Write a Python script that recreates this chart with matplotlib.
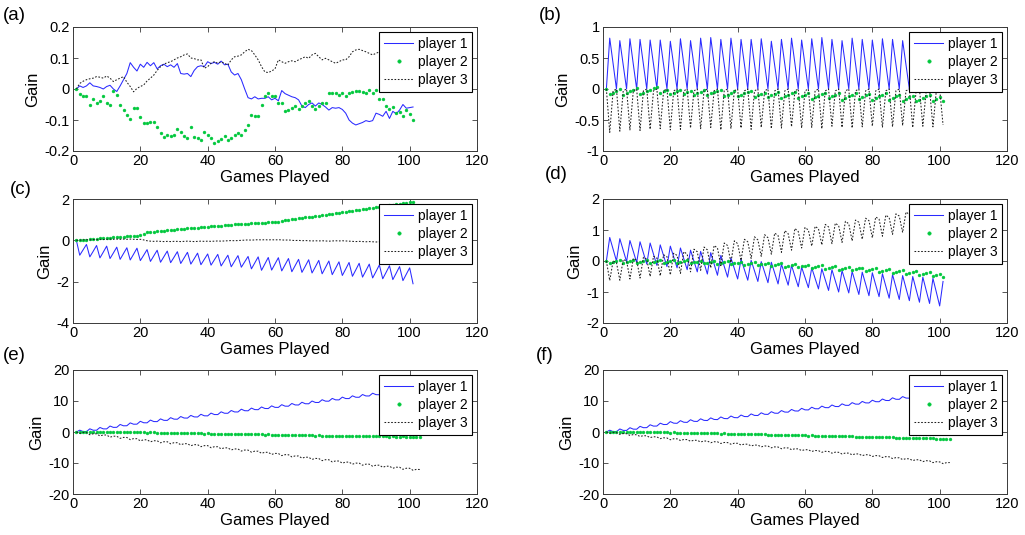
import numpy as np
import matplotlib
matplotlib.use('Agg')
import matplotlib.pyplot as plt
from matplotlib.ticker import FuncFormatter

plt.rcParams['font.family'] = ['Liberation Sans', 'DejaVu Sans']
plt.rcParams['axes.unicode_minus'] = False

# ---------------- data ----------------
labels = ['player 1', 'player 2', 'player 3']
panel_names = ['(a)', '(b)', '(c)', '(d)', '(e)', '(f)']
xticks = [0, 20, 40, 60, 80, 100, 120]

a_p1 = [0.00, 0.01, 0.005, 0.01, 0.02, 0.01, 0.008, 0.005, 0.0, 0.008,
        0.012, 0.0, -0.008, 0.01, 0.03, 0.05, 0.085, 0.07, 0.058, 0.08,
        0.07, 0.086, 0.075, 0.085, 0.065, 0.075, 0.08, 0.072, 0.078, 0.07,
        0.082, 0.05, 0.048, 0.05, 0.04, 0.06, 0.072, 0.075, 0.072, 0.088,
        0.082, 0.086, 0.08, 0.09, 0.078, 0.08, 0.055, 0.045, 0.05, 0.03,
        0.0, -0.028, -0.032, -0.025, -0.032, -0.03, -0.03, -0.025, -0.035, -0.03,
        -0.038, -0.005, -0.015, -0.02, -0.025, -0.028, -0.035, -0.055, -0.06, -0.05,
        -0.045, -0.055, -0.045, -0.05, -0.058, -0.068, -0.06, -0.062, -0.06, -0.066,
        -0.078, -0.1, -0.11, -0.116, -0.112, -0.108, -0.102, -0.105, -0.102, -0.078,
        -0.082, -0.088, -0.072, -0.095, -0.072, -0.08, -0.068, -0.05, -0.062, -0.06,
        -0.058]
a_p2 = [0, -0.017, -0.023, -0.023, -0.05, -0.033, -0.044, -0.038, -0.023, -0.046,
        -0.052, -0.006, -0.019, -0.052, -0.068, -0.084, -0.098, -0.06, -0.062, -0.089,
        -0.11, -0.11, -0.108, -0.105, -0.124, -0.143, -0.154, -0.148, -0.152, -0.148,
        -0.128, -0.138, -0.152, -0.159, -0.122, -0.154, -0.159, -0.165, -0.138, -0.148,
        -0.157, -0.175, -0.168, -0.162, -0.152, -0.165, -0.159, -0.148, -0.143, -0.148,
        -0.132, -0.116, -0.084, -0.087, -0.087, -0.052, -0.022, -0.012, -0.022, -0.022,
        -0.046, -0.046, -0.071, -0.068, -0.062, -0.054, -0.066, -0.055, -0.044, -0.039,
        -0.055, -0.066, -0.055, -0.044, -0.044, -0.014, -0.014, -0.014, -0.019, -0.012,
        -0.023, -0.014, -0.009, -0.005, -0.005, -0.009, -0.012, -0.003, -0.014, -0.002,
        -0.033, -0.033, -0.055, -0.066, -0.057, -0.078, -0.073, -0.087, -0.068, -0.082,
        -0.1]
a_p3 = [0, 0.018, 0.025, 0.03, 0.033, 0.035, 0.04, 0.038, 0.035, 0.042,
        0.035, 0.024, 0.03, 0.035, 0.04, 0.022, 0.008, -0.009, 0.002, 0.008,
        0.013, 0.026, 0.035, 0.045, 0.06, 0.072, 0.08, 0.085, 0.088, 0.094,
        0.1, 0.104, 0.11, 0.113, 0.1, 0.098, 0.094, 0.094, 0.067, 0.072,
        0.083, 0.088, 0.083, 0.088, 0.083, 0.077, 0.094, 0.104, 0.106, 0.11,
        0.12, 0.128, 0.124, 0.11, 0.094, 0.072, 0.055, 0.053, 0.058, 0.065,
        0.094, 0.088, 0.083, 0.088, 0.091, 0.088, 0.094, 0.099, 0.104, 0.099,
        0.11, 0.115, 0.104, 0.094, 0.099, 0.094, 0.088, 0.083, 0.088, 0.094,
        0.094, 0.104, 0.12, 0.126, 0.128, 0.124, 0.12, 0.115, 0.11, 0.115,
        0.12, 0.118, 0.114, 0.11, 0.115, 0.118, 0.112, 0.108, 0.114, 0.116,
        0.112]

b_p1 = [0.00, 0.82, 0.41, 0.00, 0.78, 0.39, 0.00, 0.81, 0.40, 0.00, 0.80, 0.40,
        0.00, 0.79, 0.40, 0.01, 0.79, 0.39, 0.00, 0.77, 0.38, 0.00, 0.81, 0.40,
        0.00, 0.78, 0.39, 0.00, 0.82, 0.41, 0.00, 0.83, 0.41, 0.00, 0.80, 0.40,
        0.00, 0.82, 0.41, 0.00, 0.80, 0.40, 0.00, 0.80, 0.40, 0.00, 0.81, 0.40,
        0.00, 0.77, 0.38, 0.00, 0.80, 0.40, 0.00, 0.82, 0.41, 0.00, 0.79, 0.39,
        0.00, 0.81, 0.40, 0.00, 0.83, 0.41, 0.00, 0.80, 0.40, 0.00, 0.78, 0.39,
        0.00, 0.82, 0.41, 0.00, 0.80, 0.40, 0.00, 0.79, 0.39, 0.00, 0.81, 0.40,
        0.00, 0.80, 0.40, 0.00, 0.78, 0.39, 0.00, 0.80, 0.40, 0.00, 0.79, 0.39,
        0.00, 0.80, 0.40, 0.00, 0.78]
b_p2 = [0.00, -0.08, -0.06, -0.03, 0.00, -0.09, -0.07, -0.04, -0.01, 0.02,
        -0.08, -0.06, -0.04, -0.02, 0.01, 0.04, -0.06, -0.04, -0.02, -0.08,
        -0.06, -0.03, -0.01, -0.08, -0.05, -0.03, -0.10, -0.07, -0.05, -0.02,
        -0.10, -0.07, -0.05, -0.03, -0.01, -0.11, -0.09, -0.06, -0.04, -0.12,
        -0.10, -0.07, -0.05, -0.03, -0.13, -0.10, -0.08, -0.06, -0.13, -0.10,
        -0.08, -0.05, -0.15, -0.12, -0.10, -0.07, -0.05, -0.14, -0.12, -0.09,
        -0.06, -0.16, -0.13, -0.11, -0.08, -0.06, -0.15, -0.12, -0.10, -0.07,
        -0.17, -0.15, -0.12, -0.10, -0.07, -0.16, -0.13, -0.10, -0.08, -0.18,
        -0.15, -0.12, -0.10, -0.07, -0.17, -0.14, -0.12, -0.09, -0.19, -0.16,
        -0.13, -0.11, -0.20, -0.17, -0.14, -0.12, -0.09, -0.19, -0.16, -0.13,
        -0.19]
b_p3 = [0.00, -0.70, -0.03, 0.00, -0.68, -0.03, 0.00, -0.66, -0.03, 0.00, -0.67, -0.03,
        0.00, -0.65, -0.03, 0.00, -0.64, -0.03, 0.00, -0.66, -0.03, 0.00, -0.65, -0.03,
        0.00, -0.63, -0.03, 0.00, -0.64, -0.03, 0.00, -0.62, -0.03, 0.00, -0.66, -0.03,
        0.00, -0.64, -0.03, 0.00, -0.63, -0.03, 0.00, -0.65, -0.03, 0.00, -0.62, -0.03,
        0.00, -0.64, -0.03, 0.00, -0.63, -0.03, 0.00, -0.61, -0.03, 0.00, -0.63, -0.03,
        0.00, -0.62, -0.03, 0.00, -0.64, -0.03, 0.00, -0.60, -0.03, 0.00, -0.62, -0.03,
        0.00, -0.63, -0.03, 0.00, -0.61, -0.03, 0.00, -0.60, -0.03, 0.00, -0.62, -0.03,
        0.00, -0.61, -0.03, 0.00, -0.59, -0.03, 0.00, -0.62, -0.03, 0.00, -0.60, -0.03,
        0.00, -0.61, -0.03, 0.00, -0.58]

c_p1 = [0.00, -0.72, -0.46, -0.20, -0.80, -0.53, -0.25, -0.85, -0.57,
        -0.28, -0.88, -0.61, -0.33, -0.92, -0.64, -0.36, -0.95, -0.67,
        -0.38, -0.98, -0.72, -0.45, -1.02, -0.75, -0.48, -1.06, -0.79,
        -0.52, -1.08, -0.82, -0.55, -1.12, -0.85, -0.58, -1.15, -0.89,
        -0.62, -1.18, -0.92, -0.66, -1.20, -0.94, -0.68, -1.24, -0.98,
        -0.72, -1.28, -1.01, -0.74, -1.30, -1.04, -0.78, -1.38, -1.09,
        -0.80, -1.45, -1.14, -0.83, -1.44, -1.14, -0.84, -1.48, -1.18,
        -0.88, -1.52, -1.22, -0.92, -1.55, -1.25, -0.94, -1.58, -1.28,
        -0.97, -1.62, -1.31, -1.00, -1.66, -1.35, -1.04, -1.70, -1.39,
        -1.07, -1.74, -1.43, -1.11, -1.78, -1.47, -1.15, -1.82, -1.51,
        -1.19, -1.86, -1.55, -1.23, -1.90, -1.59, -1.27, -1.95, -1.64,
        -1.33, -2.10]
c_p2 = [0.0, 0.0, 0.02, 0.03, 0.05, 0.06, 0.08, 0.1, 0.1, 0.12,
        0.13, 0.14, 0.15, 0.17, 0.18, 0.19, 0.2, 0.22, 0.23, 0.25,
        0.3, 0.38, 0.4, 0.42, 0.43, 0.45, 0.46, 0.48, 0.5, 0.52,
        0.53, 0.55, 0.56, 0.58, 0.6, 0.61, 0.62, 0.64, 0.65, 0.66,
        0.67, 0.68, 0.7, 0.71, 0.72, 0.74, 0.75, 0.77, 0.78, 0.79,
        0.8, 0.81, 0.82, 0.83, 0.84, 0.85, 0.86, 0.87, 0.88, 0.89,
        0.91, 0.93, 0.96, 0.98, 1.01, 1.03, 1.06, 1.08, 1.11, 1.13,
        1.15, 1.17, 1.2, 1.22, 1.24, 1.27, 1.29, 1.31, 1.34, 1.37,
        1.39, 1.41, 1.44, 1.46, 1.48, 1.51, 1.53, 1.55, 1.58, 1.6,
        1.62, 1.65, 1.67, 1.7, 1.72, 1.75, 1.77, 1.8, 1.82, 1.85,
        1.86]
c_p3 = [0.0, 0.01, 0.02, 0.03, 0.02, 0.04, 0.03, 0.05, 0.04, 0.05,
        0.06, 0.05, 0.06, 0.05, 0.06, 0.05, 0.06, 0.05, 0.04, 0.05,
        0.02, -0.02, -0.04, -0.05, -0.04, -0.05, -0.06, -0.05, -0.06, -0.05,
        -0.05, -0.06, -0.05, -0.04, -0.05, -0.06, -0.05, -0.04, -0.05, -0.04,
        -0.05, -0.04, -0.03, -0.04, -0.03, -0.02, -0.01, -0.02, -0.01, 0.0,
        0.01, 0.02, 0.01, 0.02, 0.03, 0.02, 0.03, 0.02, 0.03, 0.02,
        0.03, 0.02, 0.01, 0.02, 0.0, -0.01, 0.0, -0.02, -0.01, -0.02,
        -0.03, -0.02, -0.03, -0.02, -0.03, -0.04, -0.03, -0.02, -0.03, -0.02,
        -0.03, -0.04, -0.05, -0.06, -0.05, -0.06, -0.07, -0.06, -0.07, -0.08,
        -0.07, -0.08, -0.07, -0.06, -0.07, -0.08, -0.07, -0.06, -0.07, -0.08,
        -0.07]

d_p1 = [0.00, 0.76, 0.38, 0.00, 0.72, 0.35, -0.02, 0.66, 0.31,
        -0.05, 0.62, 0.26, -0.10, 0.58, 0.22, -0.14, 0.52, 0.17,
        -0.18, 0.48, 0.13, -0.22, 0.42, 0.07, -0.28, 0.35, 0.00,
        -0.35, 0.31, -0.06, -0.42, 0.27, -0.10, -0.46, 0.18, -0.17,
        -0.52, 0.10, -0.24, -0.58, 0.06, -0.28, -0.62, 0.02, -0.32,
        -0.66, -0.02, -0.36, -0.70, -0.04, -0.39, -0.74, -0.10, -0.44,
        -0.78, -0.14, -0.49, -0.83, -0.20, -0.53, -0.86, -0.22, -0.56,
        -0.90, -0.25, -0.60, -0.95, -0.28, -0.64, -1.00, -0.31, -0.67,
        -1.03, -0.34, -0.71, -1.08, -0.36, -0.74, -1.12, -0.38, -0.77,
        -1.15, -0.41, -0.81, -1.20, -0.44, -0.84, -1.24, -0.47, -0.88,
        -1.28, -0.50, -0.92, -1.33, -0.52, -0.95, -1.37, -0.56, -1.00,
        -1.45, -0.66]
d_p2 = [0.0, -0.05, -0.03, -0.01, 0.02, -0.06, -0.04, -0.01, 0.02, -0.05,
        -0.03, 0.0, 0.03, -0.05, -0.02, 0.01, 0.03, -0.05, -0.03, 0.0,
        0.02, -0.06, -0.03, -0.01, 0.02, -0.07, -0.04, -0.02, 0.01, -0.08,
        -0.05, -0.03, 0.0, -0.09, -0.06, -0.04, -0.01, -0.11, -0.08, -0.05,
        -0.03, -0.12, -0.09, -0.07, -0.04, -0.14, -0.11, -0.09, -0.06, -0.16,
        -0.13, -0.1, -0.08, -0.18, -0.15, -0.13, -0.1, -0.2, -0.17, -0.15,
        -0.12, -0.23, -0.2, -0.17, -0.14, -0.26, -0.23, -0.2, -0.17, -0.28,
        -0.25, -0.22, -0.19, -0.3, -0.27, -0.24, -0.21, -0.33, -0.3, -0.27,
        -0.24, -0.36, -0.33, -0.3, -0.27, -0.39, -0.36, -0.33, -0.3, -0.42,
        -0.39, -0.36, -0.33, -0.46, -0.43, -0.4, -0.37, -0.49, -0.46, -0.43,
        -0.5]
d_p3 = [0.00, -0.63, 0.00, -0.05, -0.62, 0.05, 0.00, -0.58, 0.08,
        0.03, -0.55, 0.12, 0.06, -0.50, 0.15, 0.10, -0.48, 0.20,
        0.14, -0.45, 0.25, 0.18, -0.40, 0.30, 0.22, -0.35, 0.38,
        0.30, -0.30, 0.45, 0.36, -0.22, 0.50, 0.42, -0.15, 0.58,
        0.50, -0.05, 0.65, 0.56, 0.02, 0.70, 0.62, 0.08, 0.78,
        0.68, 0.15, 0.85, 0.75, 0.22, 0.90, 0.82, 0.28, 0.98,
        0.88, 0.35, 1.05, 0.95, 0.42, 1.08, 1.00, 0.48, 1.12,
        1.04, 0.52, 1.18, 1.10, 0.56, 1.22, 1.14, 0.60, 1.28,
        1.20, 0.65, 1.32, 1.25, 0.70, 1.38, 1.30, 0.75, 1.42,
        1.35, 0.80, 1.48, 1.40, 0.86, 1.52, 1.45, 0.92, 1.58,
        1.50, 0.98, 1.62, 1.55, 1.02, 1.68, 1.60, 1.05, 1.72,
        1.62, 0.85]

e_p1 = [0.0, 0.59, 0.14, 0.13, 1.03, 0.57, 0.57, 1.46, 1.01, 1.0,
        1.92, 1.49, 1.51, 2.43, 2.0, 2.02, 2.94, 2.51, 2.53, 3.45,
        2.98, 2.96, 3.84, 3.37, 3.35, 4.23, 3.76, 3.74, 4.62, 4.15,
        4.12, 4.99, 4.51, 4.48, 5.35, 4.87, 4.84, 5.71, 5.23, 5.2,
        6.09, 5.63, 5.62, 6.51, 6.05, 6.04, 6.93, 6.47, 6.46, 7.35,
        6.87, 6.84, 7.71, 7.23, 7.2, 8.07, 7.59, 7.56, 8.43, 7.95,
        7.93, 8.81, 8.34, 8.32, 9.2, 8.73, 8.71, 9.59, 9.12, 9.1,
        9.99, 9.53, 9.52, 10.41, 9.95, 9.94, 10.83, 10.37, 10.36, 11.25,
        10.79, 10.78, 11.67, 11.21, 11.2, 12.09, 11.63, 11.62, 12.51, 12.05,
        12.02, 12.89, 12.41, 12.38, 13.25, 12.77, 12.74, 13.61, 13.13, 13.1,
        13.98, 13.52, 13.5]
e_p2 = [0, 0, -0.05, 0.05, 0.1, 0.0, 0.05, 0.1, 0.05, 0.0,
        0.1, 0.15, 0.05, 0.0, -0.05, 0.0, -0.1, -0.05, -0.1, -0.15,
        -0.1, -0.2, -0.15, -0.1, -0.2, -0.25, -0.2, -0.3, -0.25, -0.3,
        -0.35, -0.3, -0.35, -0.4, -0.35, -0.45, -0.4, -0.45, -0.5, -0.45,
        -0.5, -0.55, -0.5, -0.6, -0.55, -0.6, -0.65, -0.6, -0.7, -0.65,
        -0.7, -0.75, -0.7, -0.8, -0.75, -0.8, -0.85, -0.8, -0.9, -0.85,
        -0.9, -0.95, -0.9, -1.0, -0.95, -1.0, -1.05, -1.0, -1.1, -1.05,
        -1.1, -1.15, -1.1, -1.2, -1.15, -1.2, -1.25, -1.2, -1.3, -1.25,
        -1.3, -1.3, -1.25, -1.35, -1.3, -1.35, -1.4, -1.35, -1.4, -1.4,
        -1.45, -1.4, -1.45, -1.5, -1.45, -1.5, -1.5, -1.45, -1.55, -1.5,
        -1.55, -1.6, -1.55]
e_p3 = [0, -0.48, -0.16, -0.19, -0.88, -0.56, -0.59, -1.27, -0.95, -0.98,
        -1.67, -1.35, -1.38, -2.06, -1.74, -1.77, -2.46, -2.14, -2.17, -2.85,
        -2.51, -2.51, -3.17, -2.82, -2.83, -3.48, -3.14, -3.14, -3.8, -3.45,
        -3.46, -4.11, -3.77, -3.77, -4.43, -4.08, -4.09, -4.74, -4.4, -4.4,
        -5.07, -4.74, -4.76, -5.43, -5.1, -5.12, -5.79, -5.46, -5.48, -6.15,
        -5.82, -5.84, -6.51, -6.18, -6.2, -6.87, -6.54, -6.56, -7.23, -6.9,
        -6.94, -7.62, -7.31, -7.34, -8.03, -7.71, -7.75, -8.43, -8.12, -8.15,
        -8.84, -8.52, -8.56, -9.24, -8.93, -8.96, -9.65, -9.33, -9.37, -10.05,
        -9.71, -9.72, -10.38, -10.04, -10.05, -10.71, -10.37, -10.38, -11.04, -10.7,
        -10.71, -11.37, -11.03, -11.04, -11.7, -11.36, -11.37, -12.03, -11.69, -11.7,
        -12.35, -12.05, -12.1]

f_p1 = [0, 0.58, 0.12, 0.1, 0.98, 0.52, 0.5, 1.38, 0.92, 0.9,
        1.82, 1.39, 1.41, 2.33, 1.9, 1.92, 2.84, 2.41, 2.43, 3.35,
        2.85, 2.8, 3.65, 3.15, 3.1, 3.95, 3.45, 3.4, 4.25, 3.75,
        3.7, 4.55, 4.05, 4.0, 4.85, 4.35, 4.3, 5.15, 4.65, 4.6,
        5.47, 4.99, 4.96, 5.83, 5.35, 5.32, 6.19, 5.71, 5.68, 6.55,
        6.07, 6.04, 6.91, 6.43, 6.4, 7.27, 6.79, 6.76, 7.63, 7.15,
        7.12, 7.99, 7.51, 7.48, 8.35, 7.87, 7.84, 8.71, 8.23, 8.2,
        9.08, 8.61, 8.59, 9.47, 9.0, 8.98, 9.86, 9.39, 9.37, 10.25,
        9.78, 9.76, 10.64, 10.17, 10.15, 11.03, 10.56, 10.54, 11.42, 10.95,
        10.91, 11.77, 11.28, 11.24, 12.1, 11.61, 11.57, 12.43, 11.94, 11.9,
        12.75, 12.25, 12.2]
f_p2 = [0, 0.05, 0.1, 0.05, 0.1, 0.15, 0.1, 0.05, 0.1, 0.05,
        0.0, 0.05, 0.0, -0.05, 0.0, -0.1, -0.05, -0.1, -0.15, -0.2,
        -0.15, -0.2, -0.25, -0.2, -0.3, -0.25, -0.3, -0.35, -0.3, -0.4,
        -0.35, -0.4, -0.45, -0.4, -0.5, -0.45, -0.5, -0.55, -0.5, -0.6,
        -0.6, -0.65, -0.7, -0.65, -0.75, -0.7, -0.8, -0.75, -0.85, -0.85,
        -0.9, -0.85, -0.95, -0.9, -1.0, -1.0, -1.05, -1.0, -1.1, -1.1,
        -1.15, -1.1, -1.2, -1.2, -1.25, -1.2, -1.3, -1.3, -1.35, -1.3,
        -1.4, -1.4, -1.45, -1.4, -1.5, -1.5, -1.55, -1.5, -1.6, -1.6,
        -1.65, -1.6, -1.7, -1.7, -1.75, -1.75, -1.8, -1.8, -1.85, -1.85,
        -1.9, -1.9, -1.95, -1.95, -2.0, -2.0, -2.05, -2.05, -2.1, -2.15,
        -2.2, -2.25, -2.3]
f_p3 = [0, -0.42, -0.13, -0.2, -0.76, -0.48, -0.54, -1.11, -0.83, -0.89,
        -1.46, -1.17, -1.24, -1.81, -1.52, -1.59, -2.15, -1.87, -1.93, -2.5,
        -2.18, -2.21, -2.74, -2.42, -2.45, -2.98, -2.66, -2.69, -3.22, -2.9,
        -2.93, -3.46, -3.14, -3.17, -3.7, -3.38, -3.41, -3.94, -3.62, -3.65,
        -4.2, -3.9, -3.95, -4.5, -4.2, -4.25, -4.8, -4.5, -4.55, -5.1,
        -4.8, -4.85, -5.4, -5.1, -5.15, -5.7, -5.4, -5.45, -6.0, -5.7,
        -5.74, -6.28, -5.97, -6.01, -6.55, -6.24, -6.28, -6.82, -6.51, -6.55,
        -7.09, -6.78, -6.82, -7.36, -7.05, -7.09, -7.63, -7.32, -7.36, -7.9,
        -7.61, -7.67, -8.23, -7.94, -8.0, -8.56, -8.27, -8.33, -8.89, -8.6,
        -8.66, -9.22, -8.93, -8.99, -9.55, -9.26, -9.32, -9.88, -9.59, -9.65,
        -10.2, -9.9, -9.85]

a_yticks = [-0.2, -0.1, 0, 0.1, 0.2]
b_yticks = [-1, -0.5, 0, 0.5, 1]
c_yticks = [-4, -2, 0, 2]
d_yticks = [-2, -1, 0, 1, 2]
e_yticks = [-20, -10, 0, 10, 20]
f_yticks = [-20, -10, 0, 10, 20]

# ---------------- style / layout ----------------
W, H = 1025, 535
BLUE = '#2a2aff'
GREEN = '#00c83c'
BLACK = '#202020'
EDGE = '#3a3a3a'

fig = plt.figure(figsize=(W / 100, H / 100), dpi=100)

col_left = [73, 603]
row_top = [27, 199, 370]
ax_w, ax_h = 404, 124

panels = [
    (a_p1, a_p2, a_p3, a_yticks),
    (b_p1, b_p2, b_p3, b_yticks),
    (c_p1, c_p2, c_p3, c_yticks),
    (d_p1, d_p2, d_p3, d_yticks),
    (e_p1, e_p2, e_p3, e_yticks),
    (f_p1, f_p2, f_p3, f_yticks),
]
name_pos = [(3, 16), (539, 16), (10, 190), (545, 175), (3, 355), (536, 355)]

fmt = FuncFormatter(lambda v, p: '{:g}'.format(round(v, 6)))

for i, (p1, p2, p3, yt) in enumerate(panels):
    r, c = divmod(i, 2)
    left = col_left[c] / W
    bottom = 1 - (row_top[r] + ax_h) / H
    ax = fig.add_axes([left, bottom, ax_w / W, ax_h / H])
    x1 = np.arange(1, len(p1) + 1)
    x2 = np.arange(1, len(p2) + 1)
    x3 = np.arange(1, len(p3) + 1)
    ax.plot(x1, p1, color=BLUE, lw=0.75, label=labels[0])
    ax.plot(x2, p2, ls='none', marker='o', ms=2.1, mfc=GREEN, mec=GREEN,
            mew=0.3, label=labels[1])
    ax.plot(x3, p3, color=BLACK, lw=0.75, ls=(0, (1.6, 1.6)), label=labels[2])
    ax.set_xlim(0, 120)
    ax.set_ylim(yt[0], yt[-1])
    ax.set_xticks(xticks)
    ax.set_yticks(yt)
    ax.yaxis.set_major_formatter(fmt)
    ax.tick_params(direction='in', top=True, right=True, length=3.5,
                   width=0.6, colors=EDGE, labelcolor='black',
                   labelsize=10.5, pad=2.5)
    for s in ax.spines.values():
        s.set_color(EDGE)
        s.set_linewidth(0.7)
    ax.set_xlabel('Games Played', fontsize=12, labelpad=1)
    ax.set_ylabel('Gain', fontsize=12, labelpad=3)
    leg = ax.legend(loc='upper right', fontsize=10, numpoints=1,
                    handlelength=2.1, handletextpad=0.3, labelspacing=0.3,
                    borderpad=0.35, borderaxespad=0.35, fancybox=False,
                    framealpha=1, edgecolor='black', markerscale=1.2)
    leg.get_frame().set_linewidth(0.8)
    nx, ny = name_pos[i]
    fig.text(nx / W, 1 - ny / H, panel_names[i], fontsize=13.5,
             ha='left', va='center')

fig.savefig('out.png', dpi=100)
